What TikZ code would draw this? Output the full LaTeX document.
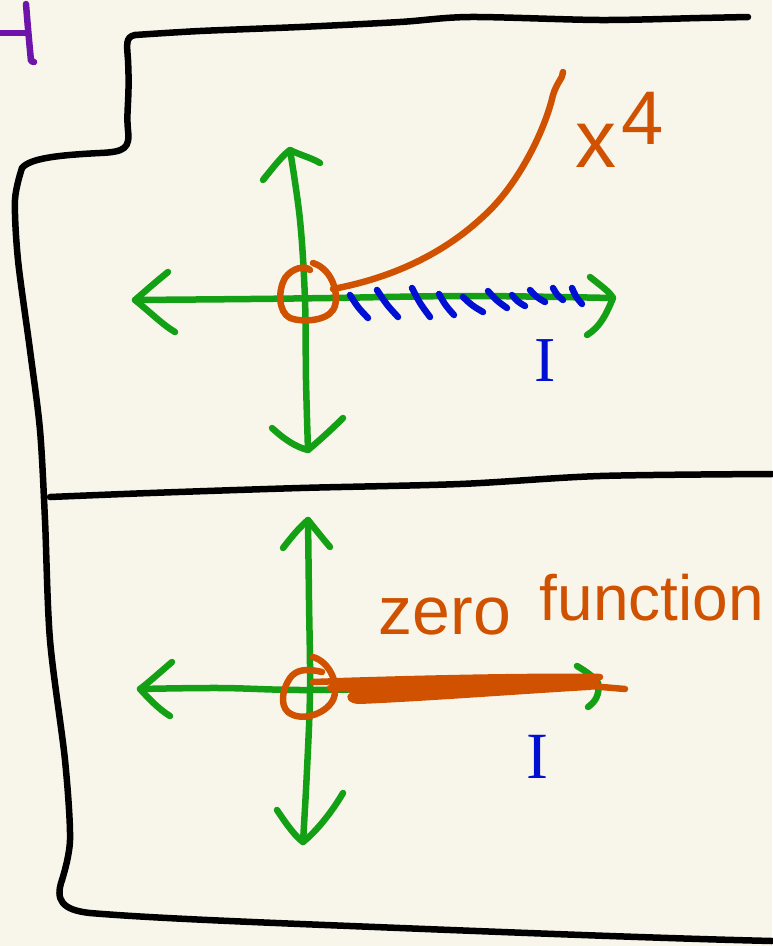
\documentclass[tikz,border=0pt]{standalone}
\usepackage{fontspec}
\setmainfont{Liberation Sans}
\newfontfamily\serifI{Liberation Serif}
\definecolor{bgc}{RGB}{248,246,235}
\definecolor{gaxis}{RGB}{20,160,20}
\definecolor{orng}{RGB}{208,82,0}
\definecolor{blu}{RGB}{0,16,210}
\definecolor{purp}{RGB}{110,20,170}
\tikzset{
  pen/.style={line width=6.5pt, line cap=round, line join=round},
  frame/.style={pen, black},
  axis/.style={pen, gaxis},
  hatch/.style={pen, blu},
  curveo/.style={pen, orng},
  lbl/.style={inner sep=0pt, outer sep=0pt},
}
\begin{document}
\begin{tikzpicture}[x=1pt,y=-1pt]
\fill[bgc] (0,0) rectangle (772,946);
\useasboundingbox (0,0) rectangle (772,946);

% cropped purple 4
\draw[pen, purp] (0,33) -- (27,33);
\draw[pen, purp] (26,4) .. controls (28,30) and (30,50) .. (31,61) -- (34,62);

% black frame
\draw[frame] plot[smooth, tension=0.5] coordinates {(748,17) (700,18) (600,20) (470,17) (400,22) (300,27) (200,31) (135,35)};
\draw[frame] (135,35) .. controls (125,37) and (127,45) .. (128,60)
  .. controls (130,100) and (126,110) .. (128,130)
  .. controls (130,148) and (125,152) .. (100,153)
  .. controls (60,155) and (30,158) .. (22,168);
\draw[frame] plot[smooth, tension=0.5] coordinates {(22,168) (15,200) (18,260) (30,350) (40,430) (45,520) (50,640) (65,760) (70,840) (62,880)};
\draw[frame] (62,880) .. controls (55,900) and (62,910) .. (90,913)
  .. controls (150,918) and (250,922) .. (350,926)
  .. controls (500,932) and (650,938) .. (772,941);
\draw[frame] plot[smooth, tension=0.5] coordinates {(50,497) (150,493) (300,488) (460,484) (600,476) (772,474)};

% ===== top panel =====
\coordinate (tv1) at (290,150);
\coordinate (tv2) at (308,450);
\draw[axis] plot[smooth, tension=0.6] coordinates {(tv1) (300,220) (305,300) (306,380) (tv2)};
\draw[axis] (263,180) .. controls (275,165) and (283,155) .. (tv1) .. controls (300,155) and (312,158) .. (320,163);
\draw[axis] (272,428) .. controls (285,440) and (296,447) .. (tv2) .. controls (320,440) and (333,428) .. (343,418);
\coordinate (th1) at (135,300);
\coordinate (th2) at (613,298);
\draw[axis] plot[smooth, tension=0.6] coordinates {(th1) (250,299) (330,298) (470,296) (th2)};
\draw[axis] (168,272) .. controls (152,285) and (142,294) .. (th1) .. controls (150,312) and (163,325) .. (175,332);
\draw[axis] (590,277) .. controls (600,285) and (610,292) .. (th2) .. controls (606,315) and (600,327) .. (587,335);

% hatch marks for I
\foreach \a/\b/\c/\d in {350/295/368/318, 377/290/398/317, 412/288/430/317, 439/294/454/315, 463/297/483/312, 488/291/507/308, 512/295/525/306, 530/290/545/302, 553/288/563/300, 572/288/582/304}
  \draw[hatch] (\a,\b) .. controls ({(\a+\c)/2-1},{(\b+\d)/2+1}) .. (\c,\d);

% orange circle and x^4 curve
\draw[curveo] (313,263) .. controls (335,270) and (340,300) .. (333,310)
  .. controls (325,322) and (300,322) .. (290,318)
  .. controls (278,312) and (278,290) .. (285,278)
  .. controls (292,268) and (305,265) .. (310,270);
\draw[curveo] (333,289) .. controls (380,280) and (440,260) .. (490,210)
  .. controls (520,180) and (545,130) .. (553,95)
  .. controls (557,82) and (563,78) .. (563,72);

\node[lbl, text=orng, font=\fontsize{82}{90}\selectfont] (xlab) at (596,146) {x};
\node[lbl, text=orng, font=\fontsize{76}{84}\selectfont] (four) at (643,118) {4};
\node[lbl, text=blu, font=\serifI\fontsize{64}{70}\selectfont] (I1) at (545,361) {I};

% ===== bottom panel =====
\coordinate (bv1) at (308,520);
\coordinate (bv2) at (303,842);
\draw[axis] plot[smooth, tension=0.6] coordinates {(bv1) (309,600) (310,690) (307,770) (bv2)};
\draw[axis] (283,548) .. controls (293,535) and (300,527) .. (bv1) .. controls (316,530) and (324,540) .. (330,547);
\draw[axis] (277,810) .. controls (287,825) and (295,836) .. (bv2) .. controls (318,830) and (333,810) .. (343,793);
\coordinate (bh1) at (140,689);
\coordinate (bh2) at (598,683);
\draw[axis] plot[smooth, tension=0.6] coordinates {(bh1) (220,688) (310,690) (450,687) (bh2)};
\draw[axis] (172,662) .. controls (158,674) and (148,683) .. (bh1) .. controls (150,700) and (160,710) .. (170,716);
\draw[axis] (577,666) .. controls (587,672) and (594,677) .. (bh2) .. controls (600,695) and (595,702) .. (588,707);

% orange circle and zero function scribble
\draw[curveo] (313,657) .. controls (330,662) and (340,685) .. (333,700)
  .. controls (325,715) and (300,722) .. (288,712)
  .. controls (280,705) and (282,690) .. (290,678)
  .. controls (296,670) and (305,668) .. (322,672);
\draw[curveo] (313,682) .. controls (400,679) and (520,676) .. (600,677)
  .. controls (540,680) and (420,684) .. (330,688)
  .. controls (420,688) and (520,684) .. (595,682)
  .. controls (520,688) and (420,694) .. (355,700)
  .. controls (430,697) and (520,690) .. (590,686)
  -- (625,689);
\fill[orng] (340,679) .. controls (450,675) and (540,674) .. (597,676)
  .. controls (602,680) and (600,688) .. (590,690)
  .. controls (520,694) and (430,701) .. (360,704)
  .. controls (348,704) and (344,697) .. (350,693)
  .. controls (343,690) and (333,685) .. (340,679) -- cycle;

\node[lbl, text=orng, font=\fontsize{68}{74}\selectfont, anchor=base] (zero) at (445,634) {zero};
\node[lbl, text=orng, font=\fontsize{64}{70}\selectfont, anchor=base] (func) at (652,620) {function};
\node[lbl, text=blu, font=\serifI\fontsize{66}{72}\selectfont] (I2) at (537,757) {I};
\end{tikzpicture}
\end{document}
